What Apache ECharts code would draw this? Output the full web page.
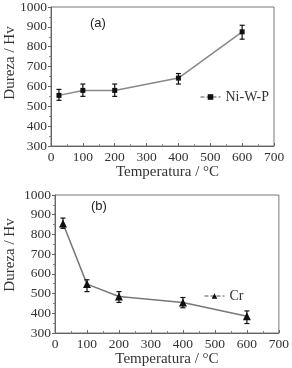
<!DOCTYPE html>
<html><head><meta charset="utf-8">
<script src="https://cdn.jsdelivr.net/npm/echarts@6/dist/echarts.min.js"></script>
<style>html,body{margin:0;padding:0;background:#fff}#c{width:292px;height:368px}</style>
</head><body><div id="c"></div>
<script>
var temps = [25, 100, 200, 400, 600];
var niwpVals = [555, 580, 580, 642, 875];
var niwpLow = [530, 550, 550, 612, 838];
var niwpHigh = [585, 612, 612, 665, 908];
var crVals = [855, 548, 485, 455, 385];
var crLow = [831, 510, 455, 428, 348];
var crHigh = [883, 570, 510, 480, 412];
var xTicks = {min: 0, max: 700, interval: 100};
var yTicks = {min: 300, max: 1000, interval: 100};
var xName = 'Temperatura / \u00B0C';
var yName = 'Dureza / Hv';

var serif = 'Liberation Serif';
function pairs(xs, ys) { return xs.map(function (x, i) { return [x, ys[i]]; }); }
function errData(xs, lo, hi) { return xs.map(function (x, i) { return [x, lo[i], hi[i]]; }); }

function xAxis(gi, nameGap, pad) {
  return {
    gridIndex: gi, type: 'value', min: xTicks.min, max: xTicks.max, interval: xTicks.interval,
    name: xName, nameLocation: 'middle', nameGap: nameGap,
    nameTextStyle: {fontFamily: serif, fontSize: 15, color: '#333', padding: pad},
    axisLine: {show: true, lineStyle: {color: '#666', width: 1}},
    axisTick: {show: true, inside: true, length: 3, lineStyle: {color: '#666'}},
    minorTick: {show: true, splitNumber: 2, length: 2, lineStyle: {color: '#888'}},
    axisLabel: {fontFamily: serif, fontSize: 13.5, color: '#333', margin: 4, formatter: function (v) { return String(v); }},
    splitLine: {show: false}
  };
}
function yAxis(gi) {
  return {
    gridIndex: gi, type: 'value', min: yTicks.min, max: yTicks.max, interval: yTicks.interval,
    axisLine: {show: true, lineStyle: {color: '#666', width: 1}},
    axisTick: {show: true, inside: false, length: 3, lineStyle: {color: '#666'}},
    minorTick: {show: true, splitNumber: 2, length: 2, lineStyle: {color: '#888'}},
    axisLabel: {fontFamily: serif, fontSize: 13.5, color: '#333', margin: 4, formatter: function (v) { return String(v); }},
    splitLine: {show: false}
  };
}
function errSeries(gi, data) {
  return {
    type: 'custom', xAxisIndex: gi, yAxisIndex: gi, data: data, z: 5,
    renderItem: function (params, api) {
      var lo = api.coord([api.value(0), api.value(1)]);
      var hi = api.coord([api.value(0), api.value(2)]);
      var w = 2.5;
      var st = {stroke: '#111', lineWidth: 1.2};
      return {type: 'group', children: [
        {type: 'line', shape: {x1: lo[0], y1: lo[1], x2: hi[0], y2: hi[1]}, style: st},
        {type: 'line', shape: {x1: lo[0] - w, y1: lo[1], x2: lo[0] + w, y2: lo[1]}, style: st},
        {type: 'line', shape: {x1: hi[0] - w, y1: hi[1], x2: hi[0] + w, y2: hi[1]}, style: st}
      ]};
    }
  };
}
function yTitle(cx, cy) {
  return {type: 'text', x: cx, y: cy, rotation: Math.PI / 2,
    style: {text: yName, font: '15px "Liberation Serif"', fill: '#333', align: 'center', verticalAlign: 'middle'}};
}

var chart = echarts.init(document.getElementById('c'), null, {renderer: 'canvas'});
chart.setOption({
  animation: false,
  backgroundColor: '#fff',
  grid: [
    {left: 51, top: 7, width: 223, height: 139, show: true, borderColor: '#777', borderWidth: 1},
    {left: 55, top: 195, width: 224, height: 138, show: true, borderColor: '#777', borderWidth: 1}
  ],
  xAxis: [xAxis(0, 17, [0, 0, 0, 10]), xAxis(1, 15, [0, 0, 0, 0])],
  yAxis: [yAxis(0), yAxis(1)],
  legend: [
    {data: ['Ni-W-P'], left: 195, top: 85, itemWidth: 20, itemHeight: 7,
     textStyle: {fontFamily: serif, fontSize: 14, color: '#333'},
     lineStyle: {type: 'dashed', color: '#555', width: 1}},
    {data: ['Cr'], left: 199, top: 284, itemWidth: 20, itemHeight: 7,
     textStyle: {fontFamily: serif, fontSize: 14, color: '#333'},
     lineStyle: {type: 'dashed', color: '#555', width: 1}}
  ],
  graphic: [
    {type: 'text', left: 90, top: 17, style: {text: '(a)', font: '13px "Liberation Sans"', fill: '#222'}},
    {type: 'text', left: 91, top: 200, style: {text: '(b)', font: '13px "Liberation Sans"', fill: '#222'}},
    yTitle(10, 63),
    yTitle(10, 255)
  ],
  series: [
    {name: 'Ni-W-P', type: 'line', xAxisIndex: 0, yAxisIndex: 0, data: pairs(temps, niwpVals),
     symbol: 'rect', symbolSize: 5, itemStyle: {color: '#111'},
     lineStyle: {color: '#888', width: 1.5}, z: 3},
    errSeries(0, errData(temps, niwpLow, niwpHigh)),
    {name: 'Cr', type: 'line', xAxisIndex: 1, yAxisIndex: 1, data: pairs(temps, crVals),
     symbol: 'triangle', symbolSize: 8, itemStyle: {color: '#111'},
     lineStyle: {color: '#777', width: 1.5}, z: 3},
    errSeries(1, errData(temps, crLow, crHigh))
  ]
});
</script></body></html>
